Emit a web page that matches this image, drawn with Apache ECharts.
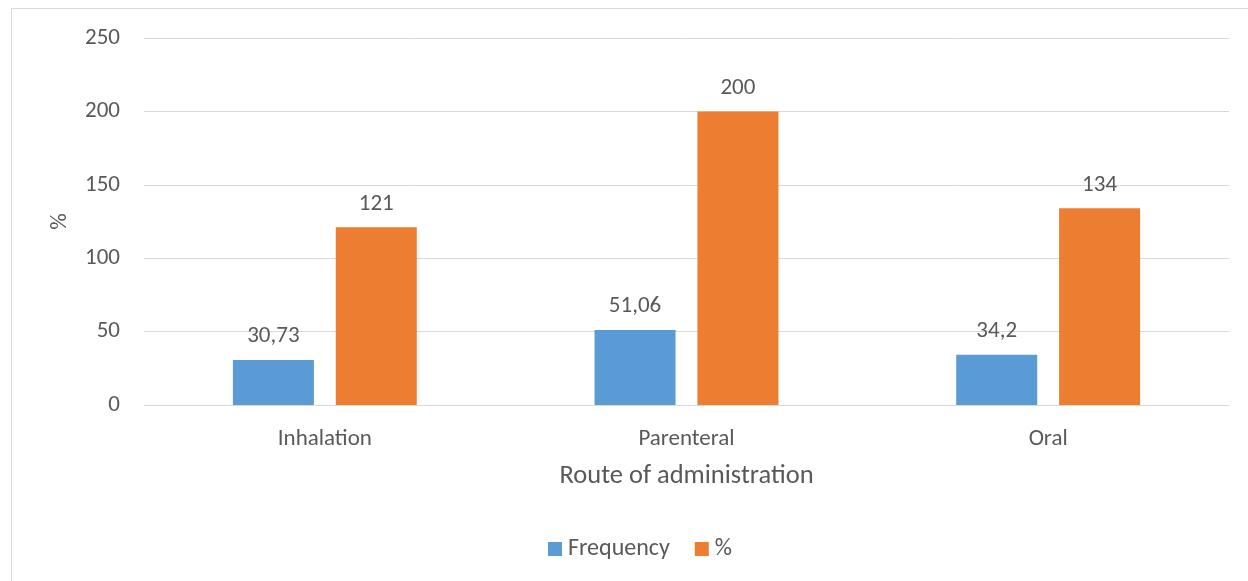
<!DOCTYPE html>
<html>
<head>
<meta charset="utf-8">
<script src="https://cdn.jsdelivr.net/npm/echarts@6/dist/echarts.min.js"></script>
<style>
  html, body { margin: 0; padding: 0; background: #fff; }
  #frame { position: absolute; left: 11px; top: 8px; width: 1260px; height: 600px; border: 1px solid #d9d9d9; box-sizing: border-box; }
  #chart { position: absolute; left: 0; top: 0; width: 1248px; height: 581px; }
</style>
</head>
<body>
<div id="frame"></div>
<div id="chart"></div>
<script>
// Routes of administration and their values
const categories = ['Inhalation', 'Parenteral', 'Oral'];
const frequency = [30.73, 51.06, 34.2];
const percent = [121, 200, 134];
const frequencyLabels = ['30,73', '51,06', '34,2'];
const yTicks = [0, 50, 100, 150, 200, 250];

const FONT = 'Calibri, Carlito, Lato, sans-serif';
const TEXT = '#595959';

const chart = echarts.init(document.getElementById('chart'), null, { renderer: 'canvas' });
chart.setOption({
  animation: false,
  textStyle: { fontFamily: FONT },
  grid: { left: 144, right: 19, top: 38, bottom: 176, containLabel: false },
  legend: {
    bottom: 20,
    left: 548,
    padding: 0,
    itemWidth: 14,
    itemHeight: 14,
    itemGap: 25,
    icon: 'rect',
    textStyle: { color: TEXT, fontSize: 24, fontFamily: FONT, padding: [0, 0, 0, 1] },
    data: ['Frequency', '%']
  },
  xAxis: {
    type: 'category',
    data: categories,
    name: 'Route of administration',
    nameLocation: 'middle',
    nameGap: 58,
    nameTextStyle: { color: TEXT, fontSize: 26.5, fontFamily: FONT },
    axisLine: { lineStyle: { color: '#d9d9d9', width: 1 } },
    axisTick: { show: false },
    axisLabel: { color: TEXT, fontSize: 23, margin: 23, fontFamily: FONT }
  },
  yAxis: {
    type: 'value',
    min: yTicks[0],
    max: yTicks[yTicks.length - 1],
    interval: 50,
    name: '%',
    nameLocation: 'middle',
    nameGap: 72,
    nameRotate: 90,
    nameTextStyle: { color: TEXT, fontSize: 23, fontFamily: FONT },
    axisLine: { show: false },
    axisTick: { show: false },
    axisLabel: { color: TEXT, fontSize: 23, margin: 24, fontFamily: FONT },
    splitLine: { lineStyle: { color: '#d9d9d9', width: 1 } }
  },
  series: [
    {
      name: 'Frequency',
      type: 'bar',
      data: frequency,
      barWidth: '22.4%',
      barGap: '27%',
      itemStyle: { color: '#5b9bd5' },
      label: {
        show: true,
        position: 'top',
        distance: 12,
        color: TEXT,
        fontSize: 23,
        fontFamily: FONT,
        formatter: p => frequencyLabels[p.dataIndex]
      }
    },
    {
      name: '%',
      type: 'bar',
      data: percent,
      barWidth: '22.4%',
      itemStyle: { color: '#ed7d31' },
      label: {
        show: true,
        position: 'top',
        distance: 12,
        color: TEXT,
        fontSize: 23,
        fontFamily: FONT
      }
    }
  ]
});
</script>
</body>
</html>
